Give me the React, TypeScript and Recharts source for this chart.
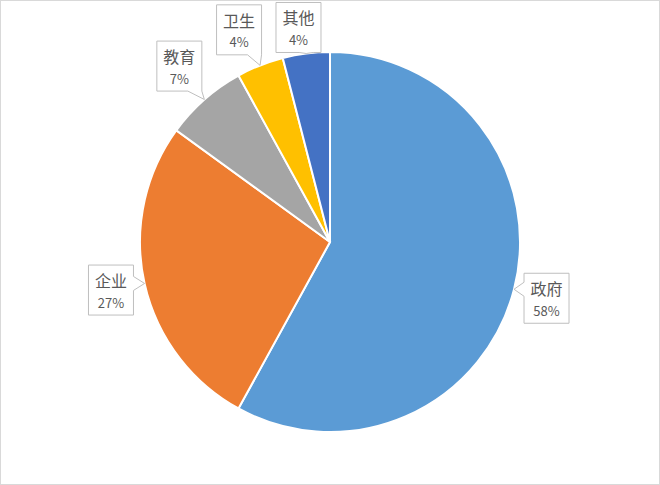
import React from "react";
import { PieChart, Pie, Cell } from "recharts";

const categories = ["政府", "企业", "教育", "卫生", "其他"];
const shares = [58, 27, 7, 4, 4];
const colors = ["#5B9BD5", "#ED7D31", "#A5A5A5", "#FFC000", "#4472C4"];
// label box centre offsets from the slice's outer mid-point (layout only)
const labelOffsets: [number, number][] = [
  [32.5, 9],
  [-33.6, 6.6],
  [-25, -33.4],
  [-21, -35.5],
  [-7.7, -26],
];

const data = categories.map((name, i) => ({ name, value: shares[i] }));

const RAD = Math.PI / 180;
const BOX_W = 45;
const BOX_H = 50;
const HALF_BASE = 7;

function calloutPath(x0: number, y0: number, x1: number, y1: number, tx: number, ty: number) {
  const cxb = (x0 + x1) / 2;
  const cyb = (y0 + y1) / 2;
  const nx = (tx - cxb) / ((x1 - x0) / 2);
  const ny = (ty - cyb) / ((y1 - y0) / 2);
  const clamp = (v: number, a: number, b: number) => Math.max(a, Math.min(b, v));
  let side: string;
  if (Math.abs(nx) <= 1 && Math.abs(ny) <= 1) side = "none";
  else if (Math.abs(nx) > Math.abs(ny)) side = nx > 0 ? "right" : "left";
  else side = ny > 0 ? "bottom" : "top";
  const p: string[] = [];
  p.push(`M${x0},${y0}`);
  if (side === "top") {
    const c = clamp(tx, x0 + HALF_BASE, x1 - HALF_BASE);
    p.push(`L${c - HALF_BASE},${y0}`, `L${tx},${ty}`, `L${c + HALF_BASE},${y0}`);
  }
  p.push(`L${x1},${y0}`);
  if (side === "right") {
    const c = clamp(ty, y0 + HALF_BASE, y1 - HALF_BASE);
    p.push(`L${x1},${c - HALF_BASE}`, `L${tx},${ty}`, `L${x1},${c + HALF_BASE}`);
  }
  p.push(`L${x1},${y1}`);
  if (side === "bottom") {
    const c = clamp(tx, x0 + HALF_BASE, x1 - HALF_BASE);
    p.push(`L${c + HALF_BASE},${y1}`, `L${tx},${ty}`, `L${c - HALF_BASE},${y1}`);
  }
  p.push(`L${x0},${y1}`);
  if (side === "left") {
    const c = clamp(ty, y0 + HALF_BASE, y1 - HALF_BASE);
    p.push(`L${x0},${c + HALF_BASE}`, `L${tx},${ty}`, `L${x0},${c - HALF_BASE}`);
  }
  p.push("Z");
  return p.join(" ");
}

const renderLabel = (props: any) => {
  const { cx, cy, midAngle, outerRadius, index, name, value } = props;
  const tx = cx + outerRadius * Math.cos(-midAngle * RAD);
  const ty = cy + outerRadius * Math.sin(-midAngle * RAD);
  const [dx, dy] = labelOffsets[index] || [0, 0];
  const bx = tx + dx;
  const by = ty + dy;
  const x0 = bx - BOX_W / 2;
  const y0 = by - BOX_H / 2;
  const x1 = bx + BOX_W / 2;
  const y1 = by + BOX_H / 2;
  return (
    <g key={`lbl-${index}`}>
      <path d={calloutPath(x0, y0, x1, y1, tx, ty)} fill="#ffffff" stroke="#bfbfbf" strokeWidth={1} />
      <text
        x={bx}
        y={by - 10}
        textAnchor="middle"
        dominantBaseline="central"
        fontFamily="'Noto Sans CJK SC', sans-serif"
        fontSize={16}
        fill="#595959"
      >
        {name}
      </text>
      <text
        x={bx}
        y={by + 12}
        textAnchor="middle"
        dominantBaseline="central"
        fontFamily="'Noto Sans CJK SC', sans-serif"
        fontSize={13}
        fill="#595959"
      >
        {`${value}%`}
      </text>
    </g>
  );
};

export default function App() {
  return (
    <div
      style={{
        position: "absolute",
        left: 0,
        top: 0,
        width: 660,
        height: 485,
        boxSizing: "border-box",
        border: "1px solid #d9d9d9",
        background: "#ffffff",
      }}
    >
      <div style={{ position: "absolute", left: -1, top: -1 }}>
        <PieChart width={660} height={485} margin={{ top: 0, right: 0, bottom: 0, left: 0 }}>
          <Pie
            data={data}
            dataKey="value"
            nameKey="name"
            cx={330}
            cy={242}
            outerRadius={190}
            startAngle={90}
            endAngle={-270}
            stroke="#ffffff"
            strokeWidth={2}
            label={renderLabel}
            labelLine={false}
            isAnimationActive={false}
          >
            {data.map((d, i) => (
              <Cell key={d.name} fill={colors[i]} />
            ))}
          </Pie>
        </PieChart>
      </div>
    </div>
  );
}
